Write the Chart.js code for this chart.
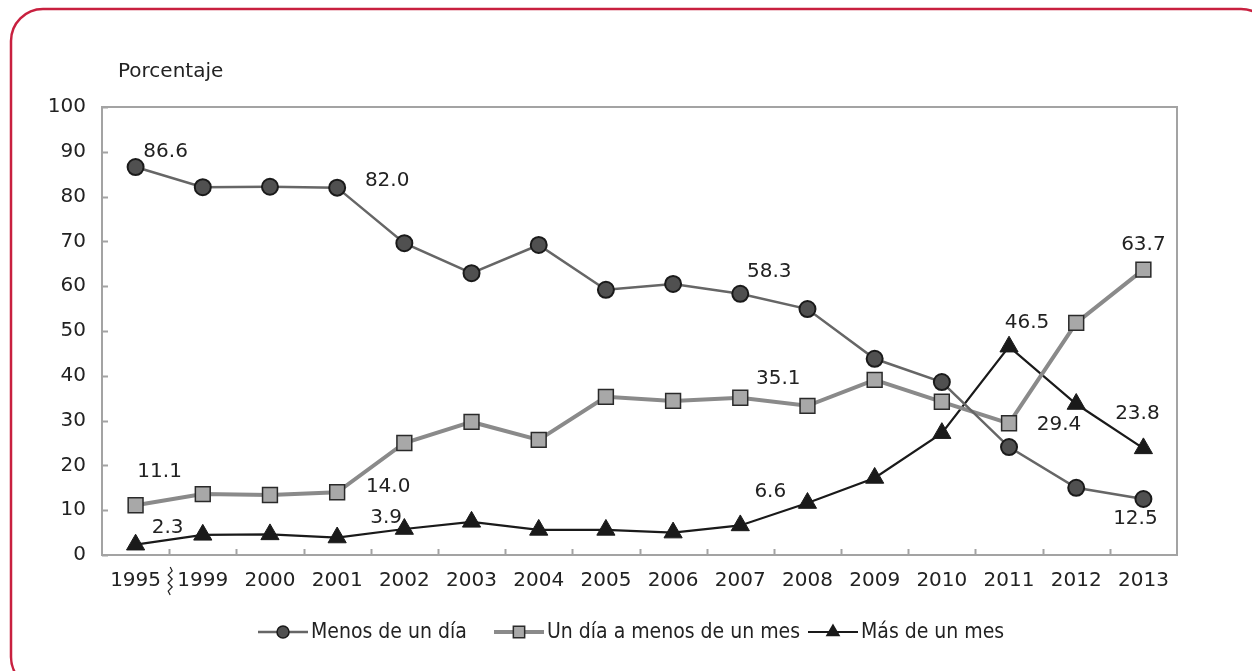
<!DOCTYPE html>
<html>
<head>
<meta charset="utf-8">
<script src="https://cdn.jsdelivr.net/npm/chart.js@4.4.1/dist/chart.umd.min.js"></script>
<style>
  html, body { margin: 0; padding: 0; background: #fff; }
  #wrap { width: 1252px; height: 671px; position: relative; }
</style>
</head>
<body>
<div id="wrap"><canvas id="chart" width="1252" height="671"></canvas></div>
<script>
// data
const years = ['1995', '1999', '2000', '2001', '2002', '2003', '2004', '2005', '2006', '2007', '2008', '2009', '2010', '2011', '2012', '2013'];
const menosDeUnDia = [86.6, 82.1, 82.2, 82.0, 69.6, 62.9, 69.2, 59.2, 60.5, 58.3, 54.9, 43.8, 38.6, 24.1, 15.0, 12.5];
const unDiaAMenosDeUnMes = [11.1, 13.6, 13.4, 14.0, 25.0, 29.7, 25.7, 35.3, 34.4, 35.1, 33.3, 39.1, 34.2, 29.4, 51.8, 63.7];
const masDeUnMes = [2.3, 4.5, 4.6, 3.9, 5.8, 7.4, 5.6, 5.6, 5.0, 6.6, 11.6, 17.2, 27.2, 46.5, 33.7, 23.8];
const yTicks = [0, 10, 20, 30, 40, 50, 60, 70, 80, 90, 100];

// which points carry a value label: [series index, point index, dx, dy]
const valueLabels = [
  [0, 0, 30, -15], [0, 3, 50, -7], [0, 9, 29, -22], [0, 15, -8, 20],
  [1, 0, 24, -33], [1, 3, 51, -5], [1, 9, 38, -19], [1, 13, 50, 2], [1, 15, 0, -25],
  [2, 0, 32, -17], [2, 3, 49, -20], [2, 9, 30, -34], [2, 13, 18, -24], [2, 15, -6, -35]
];

const FONT = '"DejaVu Sans", sans-serif';
const INK = '#222';

const extras = {
  id: 'extras',
  beforeDraw(chart) {
    const ctx = chart.ctx;
    // rounded red frame
    ctx.save();
    ctx.strokeStyle = '#c8203f';
    ctx.lineWidth = 2.5;
    ctx.beginPath();
    ctx.roundRect(11, 9, 1262, 680, 32);
    ctx.stroke();
    ctx.restore();
  },
  afterDraw(chart) {
    const ctx = chart.ctx;
    const area = chart.chartArea;
    const ys = chart.scales.y;
    ctx.save();
    // plot frame
    ctx.strokeStyle = '#a3a3a3';
    ctx.lineWidth = 2;
    ctx.strokeRect(area.left, area.top, area.right - area.left, area.bottom - area.top);
    // inward ticks
    ctx.beginPath();
    yTicks.forEach(v => {
      const y = Math.round(ys.getPixelForValue(v)) + 0.5;
      ctx.moveTo(area.left, y);
      ctx.lineTo(area.left + 6, y);
    });
    const step = (area.right - area.left) / years.length;
    for (let i = 1; i < years.length; i++) {
      const x = Math.round(area.left + i * step) + 0.5;
      ctx.moveTo(x, area.bottom);
      ctx.lineTo(x, area.bottom - 6);
    }
    ctx.stroke();

    // axis break mark between 1995 and 1999
    const bx = area.left + step + 1;
    ctx.strokeStyle = INK;
    ctx.lineWidth = 1.2;
    ctx.beginPath();
    ctx.moveTo(bx, 567);
    ctx.lineTo(bx + 2, 571);
    ctx.lineTo(bx - 2, 575);
    ctx.lineTo(bx + 2, 579);
    ctx.lineTo(bx - 2, 583);
    ctx.lineTo(bx + 2, 587);
    ctx.lineTo(bx - 2, 591);
    ctx.lineTo(bx, 595);
    ctx.stroke();

    // axis title
    ctx.fillStyle = INK;
    ctx.font = '20px ' + FONT;
    ctx.textAlign = 'left';
    ctx.textBaseline = 'middle';
    ctx.fillText('Porcentaje', 118, 72);

    // value labels
    ctx.textAlign = 'center';
    valueLabels.forEach(([d, i, dx, dy]) => {
      const p = chart.getDatasetMeta(d).data[i];
      const v = chart.data.datasets[d].data[i];
      ctx.fillText(v.toFixed(1), p.x + dx, p.y + dy);
    });

    // legend: line with marker, then text
    ctx.font = '21px "DejaVu Sans Condensed", ' + FONT;
    ctx.textAlign = 'left';
    const ly = 632;
    const starts = [258, 494, 808];
    chart.data.datasets.forEach((ds, k) => {
      const x0 = starts[k];
      ctx.strokeStyle = ds.borderColor;
      ctx.lineWidth = ds.borderWidth;
      ctx.beginPath();
      ctx.moveTo(x0, ly);
      ctx.lineTo(x0 + 50, ly);
      ctx.stroke();
      ctx.fillStyle = ds.pointBackgroundColor;
      ctx.strokeStyle = ds.pointBorderColor;
      ctx.lineWidth = 1.5;
      Chart.helpers.drawPoint(ctx, {
        pointStyle: ds.pointStyle,
        radius: ds.legendRadius,
        borderWidth: 1.5
      }, x0 + 25, ly);
      ctx.fillStyle = INK;
      ctx.fillText(ds.label, x0 + 53, ly + 1);
    });
    ctx.restore();
  }
};

const chart = new Chart(document.getElementById('chart').getContext('2d'), {
  type: 'line',
  data: {
    labels: years,
    datasets: [
      {
        label: 'Menos de un día',
        data: menosDeUnDia,
        borderColor: '#666666',
        borderWidth: 2.5,
        pointStyle: 'circle',
        pointRadius: 8,
        legendRadius: 6,
        pointBackgroundColor: '#505050',
        pointBorderColor: '#1a1a1a',
        pointBorderWidth: 2
      },
      {
        label: 'Un día a menos de un mes',
        data: unDiaAMenosDeUnMes,
        borderColor: '#8a8a8a',
        borderWidth: 4,
        pointStyle: 'rect',
        pointRadius: 10.5,
        legendRadius: 8,
        pointBackgroundColor: '#a8a8a8',
        pointBorderColor: '#2a2a2a',
        pointBorderWidth: 1.5
      },
      {
        label: 'Más de un mes',
        data: masDeUnMes,
        borderColor: '#1a1a1a',
        borderWidth: 2.2,
        pointStyle: 'triangle',
        pointRadius: 10.5,
        legendRadius: 7,
        pointBackgroundColor: '#1a1a1a',
        pointBorderColor: '#1a1a1a',
        pointBorderWidth: 1
      }
    ]
  },
  options: {
    responsive: false,
    animation: false,
    layout: { padding: { left: 0, right: 75, top: 107, bottom: 80 } },
    plugins: {
      legend: { display: false },
      tooltip: { enabled: false }
    },
    scales: {
      x: {
        offset: true,
        grid: { display: false, drawTicks: false },
        border: { display: false },
        ticks: { color: INK, font: { family: FONT, size: 20 }, padding: 14, maxRotation: 0, autoSkip: false },
        afterFit: s => { s.height = 36; }
      },
      y: {
        min: 0,
        max: 100,
        afterBuildTicks: s => { s.ticks = yTicks.map(v => ({ value: v })); },
        grid: { display: false, drawTicks: false },
        border: { display: false },
        ticks: { color: INK, font: { family: FONT, size: 20 }, padding: 16 },
        afterFit: s => { s.width = 102; }
      }
    }
  },
  plugins: [extras]
});
</script>
</body>
</html>
